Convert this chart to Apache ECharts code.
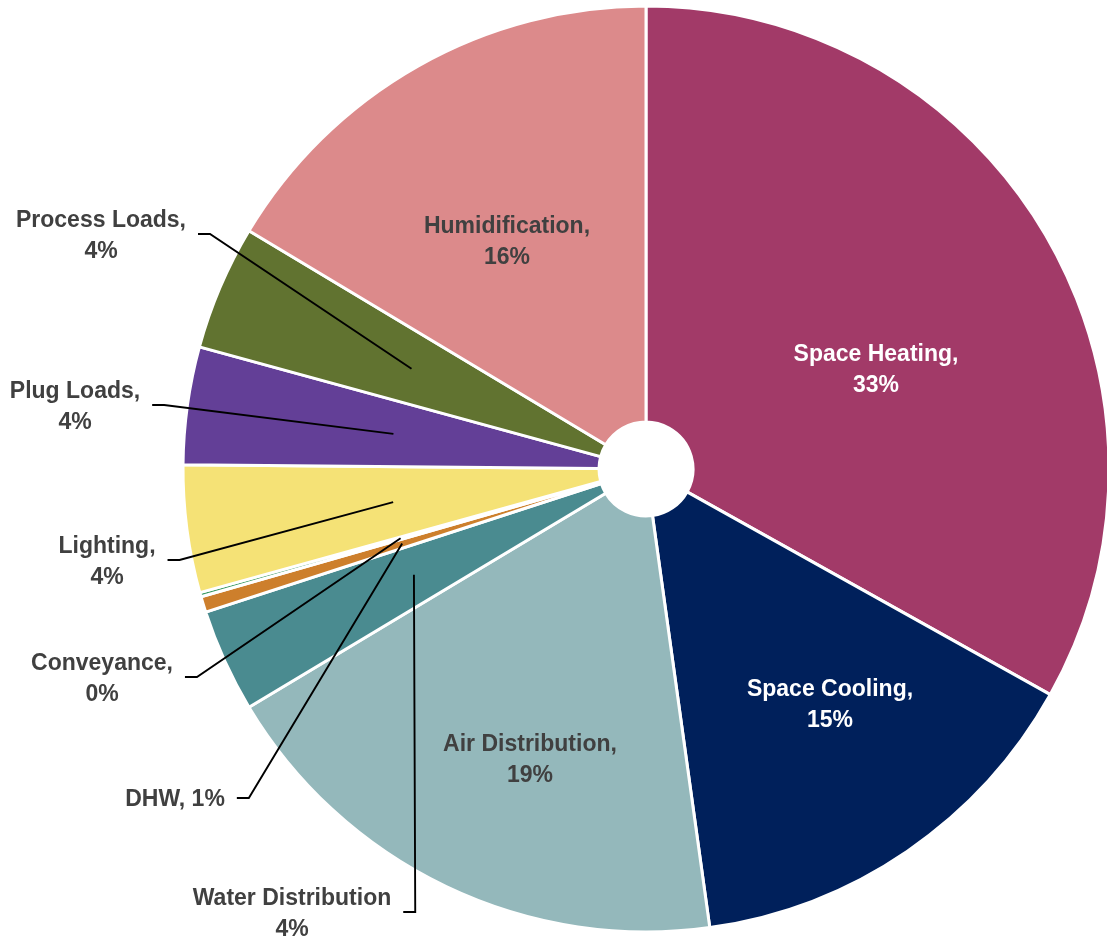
<!DOCTYPE html>
<html><head><meta charset="utf-8">
<script src="https://cdn.jsdelivr.net/npm/echarts@6/dist/echarts.min.js"></script>
<style>html,body{margin:0;padding:0;background:#fff}#c{width:1107px;height:939px}</style>
</head><body><div id="c"></div>
<script>
const categories = ['Space Heating','Space Cooling','Air Distribution','Water Distribution','DHW','Conveyance','Lighting','Plug Loads','Process Loads','Humidification'];
const values = [33.1, 14.7, 18.6, 3.6, 0.55, 0.15, 4.45, 4.1, 4.35, 16.4];
const colors = ['#A23A68','#00205B','#94B8BB','#4A8B90','#CD7F2C','#3A9A62','#F5E276','#633F97','#617330','#DC8A8B'];
const insideLabels = ['Space Heating','Space Cooling','Air Distribution','Humidification'];
const whiteLabels = ['Space Heating','Space Cooling'];
const labelSeparator = {'DHW': ', ', 'Water Distribution': '\n'};

// layout (label centres, px)
const labelPos = {
  'Space Heating':[876,370], 'Space Cooling':[830,705], 'Air Distribution':[530,760], 'Humidification':[507,242],
  'Process Loads':[101,236], 'Plug Loads':[75,407], 'Lighting':[107,562], 'Conveyance':[102,679],
  'DHW':[175,800], 'Water Distribution':[292,914]
};
const CX = 646, CY = 469, R_OUT = 463, R_IN = 47, R_LEAD = 255;
const FONT = "'Liberation Sans Narrow','Arial Narrow','Liberation Sans',Arial,sans-serif";

const fmt = p => p.name + (labelSeparator[p.name] !== undefined ? labelSeparator[p.name] : ',\n') + Math.round(p.percent) + '%';

const total = values.reduce((a,b)=>a+b,0);
function midPoint(idx, r){
  let cum = 0; for (let i=0;i<idx;i++) cum += values[i];
  const a = (cum + values[idx]/2)/total*2*Math.PI;
  return [CX + r*Math.sin(a), CY - r*Math.cos(a)];
}

const chart = echarts.init(document.getElementById('c'), null, {renderer:'canvas'});
chart.setOption({
  animation:false,
  backgroundColor:'#fff',
  series:[
    {
      type:'pie', center:[CX,CY], radius:[R_IN,R_OUT], startAngle:90, clockwise:true,
      avoidLabelOverlap:false, emphasis:{disabled:true},
      itemStyle:{borderColor:'#fff', borderWidth:3},
      label:{position:'inside', formatter:fmt, fontFamily:FONT, fontSize:23, fontWeight:'bold', lineHeight:31},
      labelLine:{show:false},
      data: categories.map((n,i)=>({name:n, value:values[i], itemStyle:{color:colors[i]},
        label:{show: insideLabels.includes(n), color: whiteLabels.includes(n)?'#ffffff':'#404040'}})),
      labelLayout: p => {
        const pos = labelPos[categories[p.dataIndex]];
        return {x:pos[0], y:pos[1], align:'center', verticalAlign:'middle'};
      }
    },
    {
      type:'pie', center:[CX,CY], radius:[0,R_LEAD], startAngle:90, clockwise:true, silent:true, z:3,
      avoidLabelOverlap:false, emphasis:{disabled:true},
      itemStyle:{color:'rgba(0,0,0,0)', borderWidth:0},
      label:{position:'outside', formatter:fmt, fontFamily:FONT, fontSize:23, fontWeight:'bold', lineHeight:31, color:'#404040', align:'center'},
      labelLine:{show:true, length:10, length2:10, lineStyle:{color:'#000', width:1.9}},
      data: categories.map((n,i)=>({name:n, value:values[i],
        label:{show: !insideLabels.includes(n)}, labelLine:{show: !insideLabels.includes(n)}})),
      labelLayout: p => {
        const pos = labelPos[categories[p.dataIndex]];
        const w = p.labelRect.width;
        const endX = pos[0] + w/2 + 12;
        const y = pos[1] - 2;
        const start = (p.labelLinePoints && p.labelLinePoints[0]) ? p.labelLinePoints[0].slice() : midPoint(p.dataIndex, R_LEAD);
        return {x:pos[0], y:pos[1], align:'center', verticalAlign:'middle',
          labelLinePoints:[start, [endX+12, y], [endX, y]]};
      }
    }
  ]
});
</script></body></html>
